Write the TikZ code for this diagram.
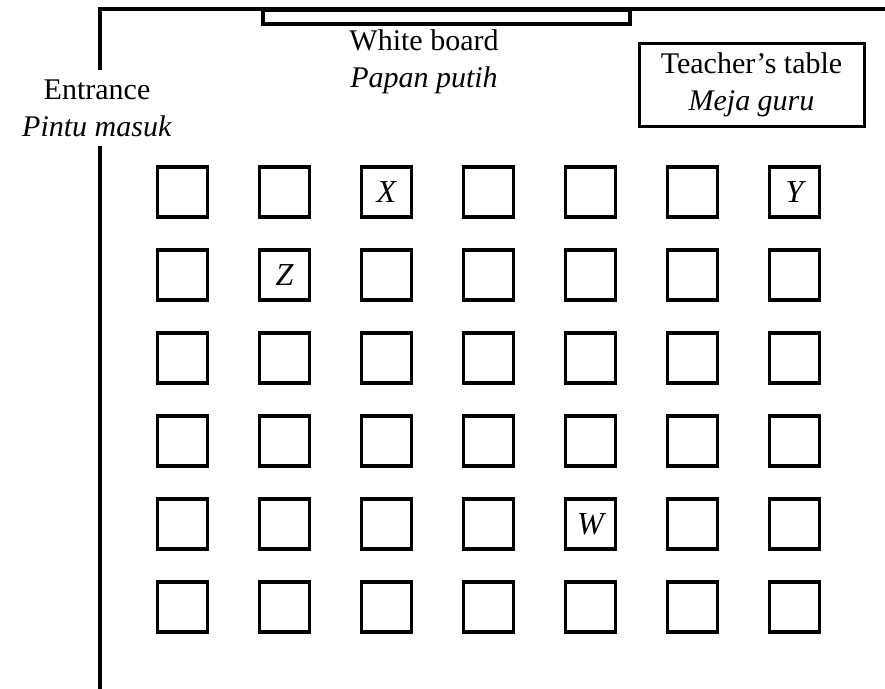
\documentclass[tikz,border=0pt]{standalone}
\usepackage{fontspec}
\setmainfont{Liberation Serif}
\usetikzlibrary{positioning}
\tikzset{
  wall/.style={line width=3.1pt,line cap=rect},
  board/.style={line width=3.1pt},
  desk/.style={rectangle,draw=black,line width=3.1pt,minimum size=50pt,inner sep=0pt,font=\fontsize{32}{34}\selectfont\itshape},
  tablebox/.style={rectangle,draw=black,line width=3pt,align=center,minimum width=225pt,minimum height=83pt,inner sep=0pt},
  caption/.style={align=center,inner sep=0pt},
  every node/.append style={font=\fontsize{30}{37}\selectfont}
}

\begin{document}
\begin{tikzpicture}[x=1pt,y=-1pt]
  \useasboundingbox (0,0) rectangle (885,688);
  % walls and door gap
  \draw[wall] (100,68) -- (100,9) -- (885,9);
  \draw[wall] (100,148) -- (100,688);
  % white board
  \draw[board] (263,10) rectangle (630,24);
  \draw[line width=4.6pt] (263,9) -- (630,9);
  \node[caption] (wb) at (424,62) {White board\\\textit{Papan putih}};
  \node[caption] (door) at (97,108) {Entrance\\\textit{Pintu masuk}};
  \node[tablebox] (teacher) at (751.5,84.5) {Teacher's table\\\textit{Meja guru}};
  % desks
  \foreach \c in {1,...,7}
    \foreach \r in {1,...,6}
      \node[desk] (d-\c-\r) at ({182.5+102*(\c-1)},{192+83*(\r-1)}) {};
  \node[desk,draw=none] (x) at (d-3-1) {X};
  \node[desk,draw=none] (y) at (d-7-1) {Y};
  \node[desk,draw=none] (z) at (d-2-2) {Z};
  \node[desk,draw=none] (w) at (d-5-5) {W};
\end{tikzpicture}
\end{document}
